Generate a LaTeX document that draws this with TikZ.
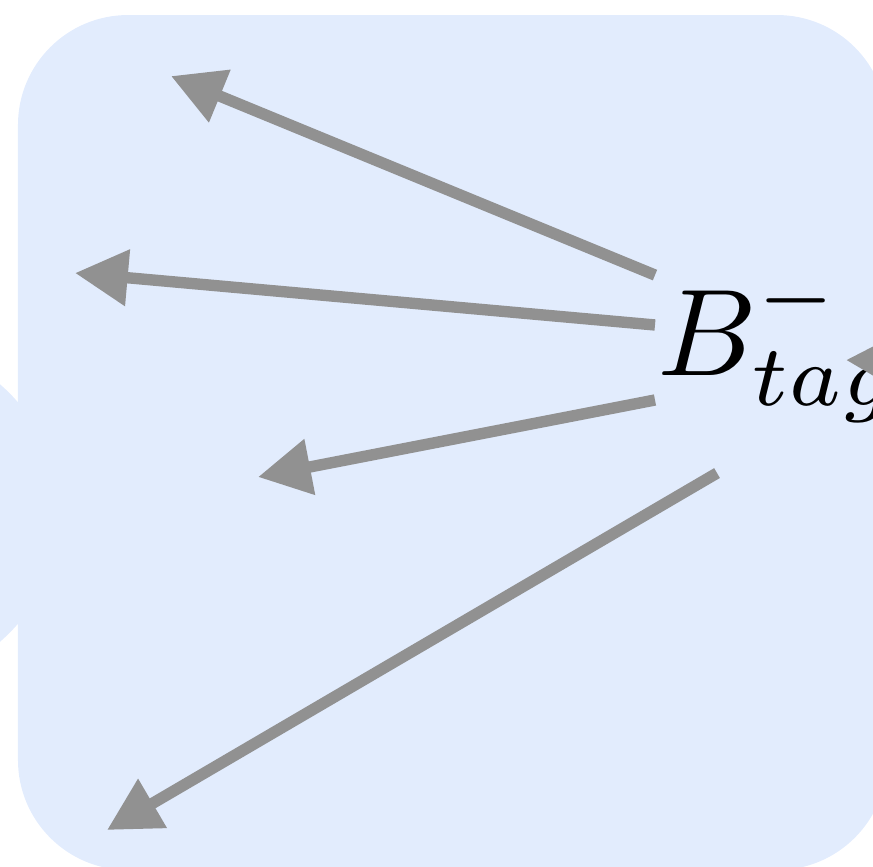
\documentclass[tikz,border=0pt]{standalone}
\usepackage{amsmath}
\usetikzlibrary{arrows.meta}
\definecolor{panelblue}{RGB}{226,236,253}
\definecolor{arrowgray}{RGB}{145,145,145}

\begin{document}
\begin{tikzpicture}[x=8.3333pt, y=-8.3333pt, panel/.style={fill=panelblue, draw=none, inner sep=0pt}, arr/.style={-{Triangle[length=4.4pt, width=4.5pt]}, line width=0.95pt, draw=arrowgray}]
\useasboundingbox (0,0) rectangle (8.73,8.66);
\node[panel, circle, minimum size=28.33pt] (side) at (-1.11,5.13) {};
\node[panel, rounded corners=9.17pt, minimum width=72.42pt, minimum height=71.25pt] (box) at (4.525,4.425) {};
\node[anchor=base west, inner sep=0pt, scale=1.03] (btag) at (6.55,3.75) {$B^-_{tag}$};
\foreach \n/\x/\y in {t1/1.71/0.76, t2/0.75/2.73, t3/2.58/4.77, t4/1.07/8.30, t5/8.46/3.60, far/10.2/3.65}{\coordinate (\n) at (\x,\y);}
\draw[arr] ([xshift=0pt, yshift=8.33pt]btag.base west) -- (t1);
\draw[arr] ([xshift=0pt, yshift=4.17pt]btag.base west) -- (t2);
\draw[arr] ([xshift=0pt, yshift=-2.08pt]btag.base west) -- (t3);
\draw[arr] ([xshift=5.17pt, yshift=-8.17pt]btag.base west) -- (t4);
\draw[arr] (far) -- (t5);
\end{tikzpicture}
\end{document}
